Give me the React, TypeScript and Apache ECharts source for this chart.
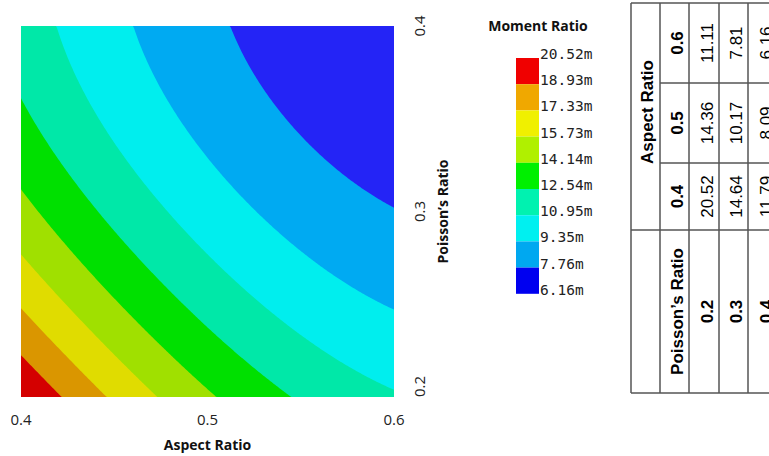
import React, { useEffect, useRef } from "react";
import * as echarts from "echarts";

// ---- data ----
const aspectRatios = [0.4, 0.5, 0.6];
const poissonRatios = [0.2, 0.3, 0.4];
// moment ratio values for each Poisson's ratio, over aspect ratios 0.4 / 0.5 / 0.6
const momentAtPoisson02 = [20.52, 14.36, 11.11];
const momentAtPoisson03 = [14.64, 10.17, 7.81];
const momentAtPoisson04 = [11.79, 8.09, 6.16];
const momentRows = [momentAtPoisson02, momentAtPoisson03, momentAtPoisson04];
const contourLevels = [6.16, 7.76, 9.35, 10.95, 12.54, 14.14, 15.73, 17.33, 18.93, 20.52];
const legendColors = ["#0000F0", "#00A8F0", "#00F0F0", "#00F2B0", "#00F000", "#B0F000", "#F0F000", "#F0A800", "#F00000"];
const fillColors = ["#2424F6", "#00AAF2", "#00EEEE", "#00E8A8", "#00E000", "#A0E000", "#E0DC00", "#DA9600", "#D40000"];

const xAxisName = "Aspect Ratio";
const yAxisName = "Poisson\u2019s Ratio";
const legendTitle = "Moment Ratio";

function lagrange(t: number): number[] {
  return [((t - 1) * (t - 2)) / 2, -t * (t - 2), (t * (t - 1)) / 2];
}

function moment(x: number, y: number): number {
  const tx = (x - aspectRatios[0]) / (aspectRatios[1] - aspectRatios[0]);
  const ty = (y - poissonRatios[0]) / (poissonRatios[1] - poissonRatios[0]);
  const wx = lagrange(tx);
  const wy = lagrange(ty);
  let s = 0;
  for (let i = 0; i < 3; i++) for (let j = 0; j < 3; j++) s += wy[i] * wx[j] * momentRows[i][j];
  return s;
}

function buildTable(): any[] {
  const els: any[] = [];
  const colX = [631, 660, 689, 719, 748, 778];
  const rowY = [3, 83, 163, 230, 393];
  const lineStyle = { stroke: "#555", lineWidth: 1.5 };
  const line = (x1: number, y1: number, x2: number, y2: number) =>
    els.push({ type: "line", shape: { x1, y1, x2, y2 }, style: lineStyle, z: 10 });
  line(colX[0], rowY[0], 790, rowY[0]);
  line(colX[0], rowY[3], 790, rowY[3]);
  line(colX[0], rowY[4], 790, rowY[4]);
  line(colX[1], rowY[1], 790, rowY[1]);
  line(colX[1], rowY[2], 790, rowY[2]);
  for (let c = 0; c < colX.length; c++) line(colX[c], rowY[0], colX[c], rowY[4]);
  const txt = (text: string, cx: number, cy: number, bold: boolean) =>
    els.push({
      type: "text",
      x: cx,
      y: cy,
      rotation: Math.PI / 2,
      z: 11,
      style: {
        text,
        x: 0,
        y: 0,
        align: "center",
        verticalAlign: "middle",
        fontFamily: "Liberation Sans, Arial, sans-serif",
        fontSize: 17,
        fontWeight: bold ? "bold" : "normal",
        fill: "#000",
      },
    });
  const off = 3;
  txt(xAxisName, (colX[0] + colX[1]) / 2 + 2, 112, true);
  // aspect-ratio rows (top to bottom: 0.6, 0.5, 0.4)
  for (let j = 0; j < 3; j++) {
    const r = 2 - j; // row index in table
    const cy = (rowY[r] + rowY[r + 1]) / 2;
    txt(aspectRatios[j].toFixed(1), (colX[1] + colX[2]) / 2 + off, cy, true);
    for (let i = 0; i < 3; i++) {
      txt(momentRows[i][j].toFixed(2), (colX[2 + i] + colX[3 + i]) / 2 + off, cy, false);
    }
  }
  const cyB = (rowY[3] + rowY[4]) / 2;
  txt(yAxisName, (colX[1] + colX[2]) / 2 + off, cyB, true);
  for (let i = 0; i < 3; i++) txt(poissonRatios[i].toFixed(1), (colX[2 + i] + colX[3 + i]) / 2 + off, cyB, true);
  return els;
}

function buildLegend(): any[] {
  const els: any[] = [];
  const left = 516;
  const top = 58;
  const w = 23;
  const h = 26.2;
  const n = legendColors.length;
  els.push({
    type: "text",
    x: 538,
    y: 25,
    style: {
      text: legendTitle,
      align: "center",
      verticalAlign: "middle",
      fontFamily: "Open Sans, sans-serif",
      fontWeight: "bold",
      fontSize: 14,
      fill: "#111",
    },
  });
  for (let k = 0; k < n; k++) {
    els.push({
      type: "rect",
      shape: { x: left, y: top + k * h, width: w, height: h },
      style: { fill: legendColors[n - 1 - k] },
    });
  }
  for (let k = 0; k < contourLevels.length; k++) {
    const v = contourLevels[contourLevels.length - 1 - k];
    els.push({
      type: "text",
      x: 540,
      y: top + k * h - 4,
      style: {
        text: v.toFixed(2) + "m",
        align: "left",
        verticalAlign: "middle",
        fontFamily: "DejaVu Sans Mono, monospace",
        fontSize: 14.5,
        fill: "#222",
      },
    });
  }
  return els;
}

export default function App() {
  const ref = useRef<HTMLDivElement>(null);
  useEffect(() => {
    if (!ref.current) return;
    const chart = echarts.init(ref.current, undefined, { renderer: "svg" });
    const bandLows = contourLevels.slice(0, contourLevels.length - 1);
    const option: any = {
      animation: false,
      grid: { left: 21, top: 26, width: 373, height: 373 },
      xAxis: {
        type: "value",
        min: aspectRatios[0],
        max: aspectRatios[2],
        interval: 0.1,
        axisLine: { show: false },
        axisTick: { show: false },
        splitLine: { show: false },
        axisLabel: {
          formatter: (v: number) => v.toFixed(1),
          fontFamily: "Open Sans, sans-serif",
          fontSize: 15,
          color: "#222",
          margin: 14,
        },
        name: xAxisName,
        nameLocation: "middle",
        nameGap: 40,
        nameTextStyle: { fontFamily: "Open Sans, sans-serif", fontWeight: "bold", fontSize: 14, color: "#111" },
      },
      yAxis: {
        type: "value",
        position: "right",
        min: poissonRatios[0],
        max: poissonRatios[2],
        interval: 0.1,
        axisLine: { show: false },
        axisTick: { show: false },
        splitLine: { show: false },
        axisLabel: {
          formatter: (v: number) => v.toFixed(1),
          rotate: 90,
          fontFamily: "Open Sans, sans-serif",
          fontSize: 15,
          color: "#222",
          margin: 17,
          alignMinLabel: "left",
        },
        name: yAxisName,
        nameLocation: "middle",
        nameRotate: 90,
        nameGap: 41,
        nameTextStyle: { fontFamily: "Open Sans, sans-serif", fontWeight: "bold", fontSize: 14, color: "#111" },
      },
      series: [
        {
          type: "custom",
          coordinateSystem: "cartesian2d",
          clip: true,
          encode: { x: 0, y: 1 },
          data: bandLows.map((l) => [aspectRatios[0], poissonRatios[0], l]),
          renderItem: (params: any, api: any) => {
            const level = api.value(2);
            const k = params.dataIndex;
            const x0 = aspectRatios[0];
            const x1 = aspectRatios[aspectRatios.length - 1];
            const y0 = poissonRatios[0];
            const y1 = poissonRatios[poissonRatios.length - 1];
            let pts: number[][];
            if (k === 0) {
              pts = [
                [x0, y0],
                [x0, y1],
                [x1, y1],
                [x1, y0],
              ];
            } else {
              pts = [[x0, y0]];
              const N = 320;
              for (let n = 0; n <= N; n++) {
                const x = x0 + ((x1 - x0) * n) / N;
                let yb: number;
                if (moment(x, y0) < level) yb = y0;
                else if (moment(x, y1) >= level) yb = y1;
                else {
                  let lo = y0;
                  let hi = y1;
                  for (let it = 0; it < 40; it++) {
                    const mid = (lo + hi) / 2;
                    if (moment(x, mid) >= level) lo = mid;
                    else hi = mid;
                  }
                  yb = (lo + hi) / 2;
                }
                pts.push([x, yb]);
              }
              pts.push([x1, y0]);
            }
            return {
              type: "polygon",
              z2: k,
              shape: { points: pts.map((p) => api.coord(p)) },
              style: { fill: fillColors[k] },
            };
          },
        },
      ],
      graphic: [...buildLegend(), ...buildTable()],
    };
    chart.setOption(option);
    return () => chart.dispose();
  }, []);
  return <div ref={ref} style={{ position: "absolute", left: 0, top: 0, width: 769, height: 456 }} />;
}
